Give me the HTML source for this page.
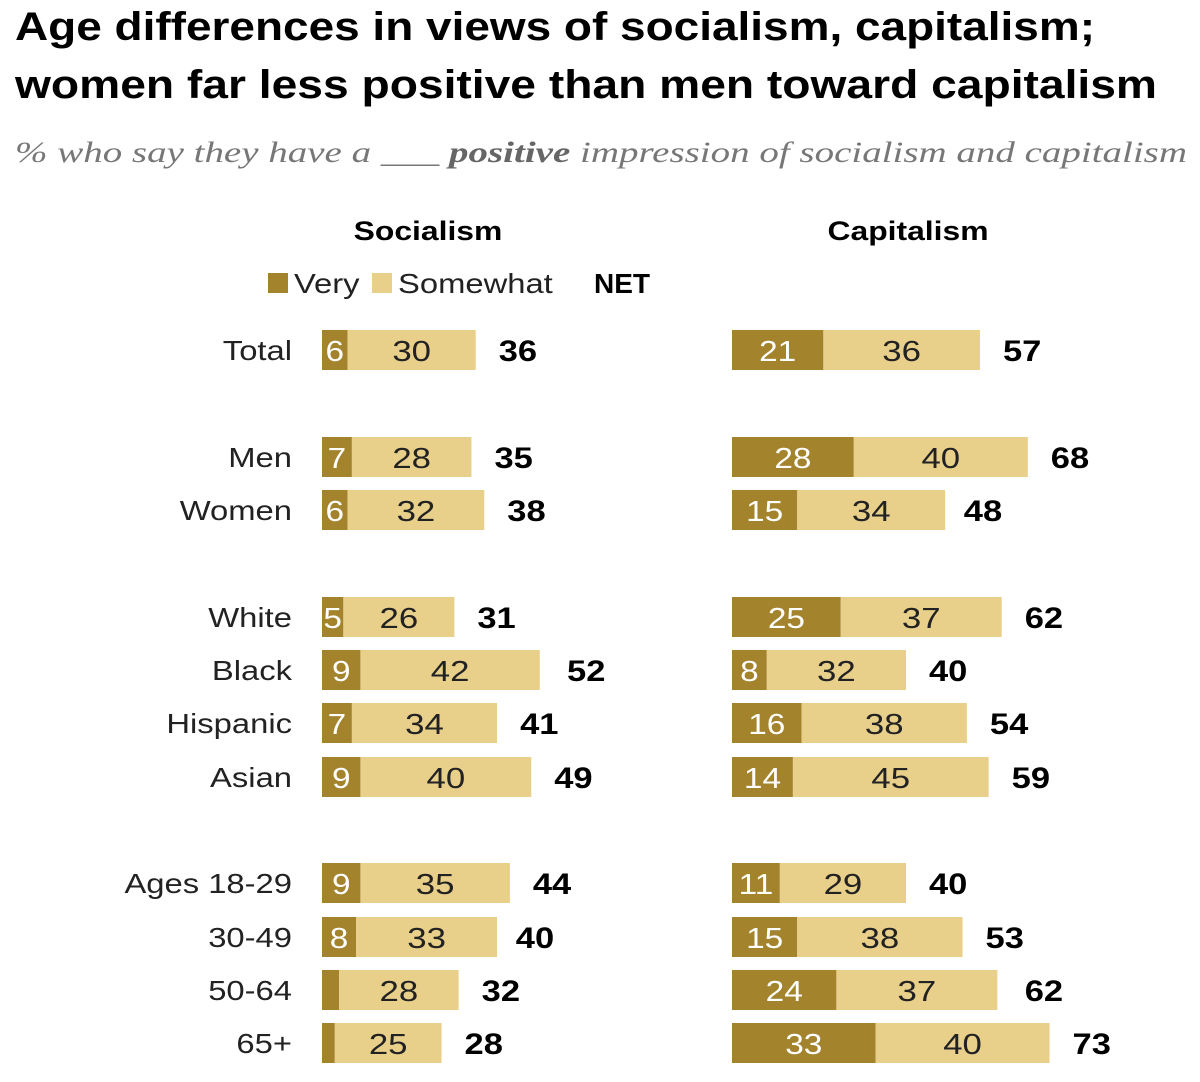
<!DOCTYPE html>
<html><head><meta charset="utf-8">
<style>
html,body{margin:0;padding:0;background:#fff;}
svg{display:block;font-family:"Liberation Sans",sans-serif;}
</style></head>
<body>
<svg id="chart" width="1200" height="1082" viewBox="0 0 1200 1082">
  <text x="15" y="40" font-size="40" font-weight="bold" fill="#000" textLength="1080" lengthAdjust="spacingAndGlyphs">Age differences in views of socialism, capitalism;</text>
  <text x="15" y="98" font-size="40" font-weight="bold" fill="#000" textLength="1142" lengthAdjust="spacingAndGlyphs">women far less positive than men toward capitalism</text>
  <text x="15" y="162" font-size="30" font-style="italic" fill="#777" font-family="Liberation Serif, serif" textLength="1172" lengthAdjust="spacingAndGlyphs">% who say they have a ___ <tspan font-weight="bold" fill="#666">positive</tspan> impression of socialism and capitalism</text>
  <text transform="translate(428,240) scale(1.18,1)" font-size="27" font-weight="bold" text-anchor="middle">Socialism</text>
  <text transform="translate(908,240) scale(1.18,1)" font-size="27" font-weight="bold" text-anchor="middle">Capitalism</text>
  <g>
    <rect x="268" y="273" width="20" height="20" fill="#a3832c"/>
    <text transform="translate(294,293) scale(1.17,1)" font-size="28" fill="#222">Very</text>
    <rect x="372" y="273" width="20" height="20" fill="#e8cf8a"/>
    <text transform="translate(398,293) scale(1.17,1)" font-size="28" fill="#222">Somewhat</text>
    <text x="594" y="293" font-size="28" font-weight="bold" fill="#000">NET</text>
  </g>
  <g id="bars"></g>
</svg>
<script>
const categories = ["Total","Men","Women","White","Black","Hispanic","Asian","Ages 18-29","30-49","50-64","65+"];
const rowCenters = [350,457,510,617,670,723,777,883,937,990,1043];
const socVery = [6,7,6,5,9,7,9,9,8,4,3];
const socSomewhat = [30,28,32,26,42,34,40,35,33,28,25];
const socNet = [36,35,38,31,52,41,49,44,40,32,28];
const capVery = [21,28,15,25,8,16,14,11,15,24,33];
const capSomewhat = [36,40,34,37,32,38,45,29,38,37,40];
const capNet = [57,68,48,62,40,54,59,40,53,62,73];
const showVeryLabel = [true,true,true,true,true,true,true,true,true,false,false];

const NS = "http://www.w3.org/2000/svg";
const g = document.getElementById('bars');
const DARK = "#a3832c", LIGHT = "#e8cf8a";
const barH = 40;
function socX(v){ return 322 + v*4.27; }
function capX(v){ return 732 + v*4.35; }
function mk(tag, attrs){ const e = document.createElementNS(NS, tag); for (const k in attrs) e.setAttribute(k, attrs[k]); g.appendChild(e); return e; }
function tf(x,y,s){ return 'translate('+x+','+y+') scale('+s+',1)'; }

categories.forEach((c,i)=>{
  const cy = rowCenters[i];
  const lab = mk('text',{transform:tf(292,cy+10,1.17),'font-size':28,'text-anchor':'end',fill:'#222'});
  
  
  lab.textContent = c;
  [[socX,socVery,socSomewhat,socNet,'socialism'],[capX,capVery,capSomewhat,capNet,'capitalism']].forEach(([sx,very,some,net,nm])=>{
    const x0 = sx(0), x1 = sx(very[i]), x2 = sx(very[i]+some[i]);
    const r1 = mk('rect',{x:x0,y:cy-barH/2,width:x1-x0,height:barH,fill:DARK});
    
    
    const r2 = mk('rect',{x:x1,y:cy-barH/2,width:x2-x1,height:barH,fill:LIGHT});
    
    
    if (nm==='capitalism' || showVeryLabel[i]) {
      const t1 = mk('text',{transform:tf((x0+x1)/2,cy+11,1.15),'font-size':29,'text-anchor':'middle',fill:'#fff'});
      
      
      t1.textContent = very[i];
    }
    const t2 = mk('text',{transform:tf((x1+x2)/2,cy+11,1.2),'font-size':29,'text-anchor':'middle',fill:'#222'});
    
    
    t2.textContent = some[i];
    const t3 = mk('text',{transform:tf(sx(net[i])+23,cy+11,1.15),'font-size':30,'font-weight':'bold',fill:'#000'});
    
    
    t3.textContent = net[i];
  });
});
</script>
</body></html>
